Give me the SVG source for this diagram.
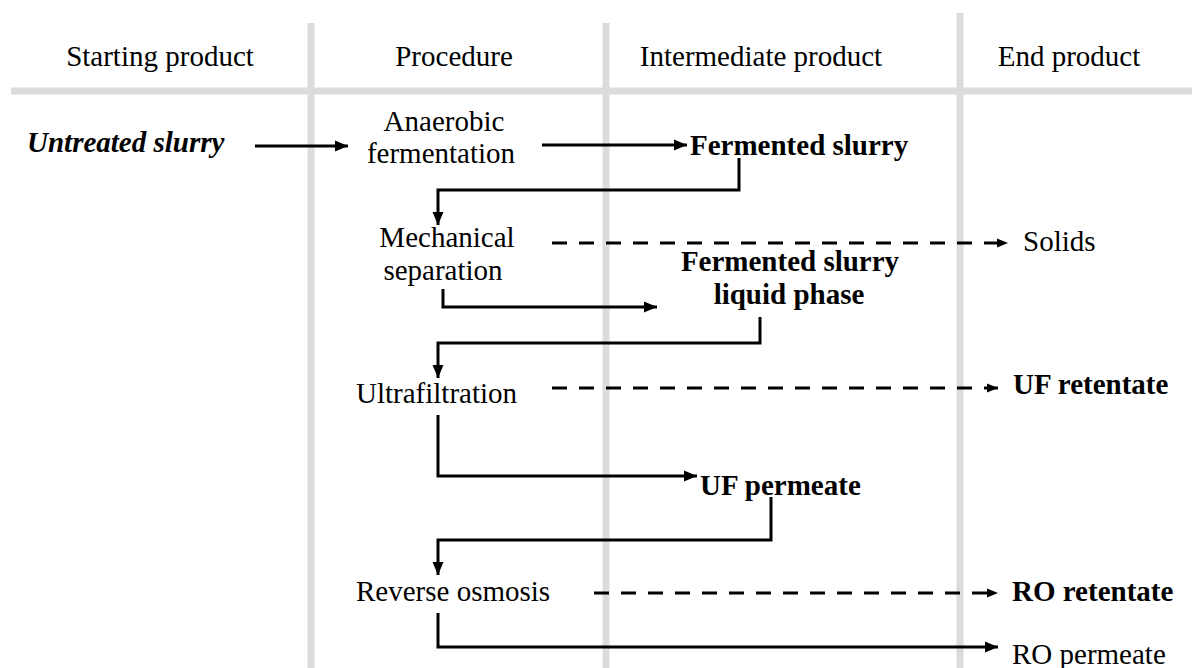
<svg xmlns="http://www.w3.org/2000/svg" width="1192" height="668" viewBox="0 0 1192 668">
<defs>
<marker id="ah" markerUnits="userSpaceOnUse" markerWidth="14" markerHeight="12" refX="13" refY="6" orient="auto">
<path d="M0,0.5 L13,6 L0,11.5 z" fill="#000"/>
</marker>
<marker id="ahs" markerUnits="userSpaceOnUse" markerWidth="12" markerHeight="10" refX="11" refY="5" orient="auto">
<path d="M0,0.5 L11,5 L0,9.5 z" fill="#000"/>
</marker>
</defs>
<style>
.grid{stroke:#dcdcdc;stroke-width:7;fill:none}
.t{font-family:"Liberation Serif","Times New Roman",serif;font-size:29px;fill:#000}
.b{font-weight:bold}
.bi{font-weight:bold;font-style:italic}
.m{text-anchor:middle}
.c{stroke:#000;stroke-width:3;fill:none;marker-end:url(#ah)}
.d{stroke:#000;stroke-width:3;fill:none;stroke-dasharray:15 12;marker-end:url(#ahs)}
</style>
<rect width="1192" height="668" fill="#fff"/>
<g id="grid">
<line class="grid" x1="11" y1="91" x2="1192" y2="91"/>
<line class="grid" x1="311" y1="23" x2="311" y2="668"/>
<line class="grid" x1="606" y1="23" x2="606" y2="668"/>
<line class="grid" x1="960" y1="13" x2="960" y2="668"/>
</g>
<g id="headers">
<text class="t m" x="160" y="66">Starting product</text>
<text class="t m" x="454" y="66">Procedure</text>
<text class="t m" x="761" y="66">Intermediate product</text>
<text class="t m" x="1069" y="66">End product</text>
</g>
<g id="connectors">
<path class="c" d="M255,146 H348"/>
<path class="c" d="M542,145 H687"/>
<path class="c" d="M739,158 V190 H438 V225"/>
<path class="d" d="M552,243 H1008"/>
<path class="c" d="M443,289 V307 H657"/>
<path class="c" d="M760,317 V343 H438 V378"/>
<path class="d" d="M552,388 H998"/>
<path class="c" d="M438,415 V476 H697"/>
<path class="c" d="M771,497 V540 H438 V575"/>
<path class="d" d="M594,593 H998"/>
<path class="c" d="M438,613 V647 H998"/>
</g>
<g id="untreated"><text class="t bi" x="27" y="152">Untreated slurry</text></g>
<g id="anaerobic"><text class="t m" x="444" y="131">Anaerobic</text><text class="t m" x="441" y="163">fermentation</text></g>
<g id="fermented"><text class="t b" x="690" y="155">Fermented slurry</text></g>
<g id="mechanical"><text class="t m" x="447" y="247">Mechanical</text><text class="t m" x="443" y="280">separation</text></g>
<g id="solids"><text class="t" x="1023" y="251">Solids</text></g>
<g id="liquid"><text class="t b m" x="790" y="271">Fermented slurry</text><text class="t b m" x="789" y="304">liquid phase</text></g>
<g id="uf"><text class="t" x="356" y="403">Ultrafiltration</text></g>
<g id="ufret"><text class="t b" x="1013" y="394">UF retentate</text></g>
<g id="ufperm"><text class="t b" x="700" y="495">UF permeate</text></g>
<g id="ro"><text class="t" x="356" y="601">Reverse osmosis</text></g>
<g id="roret"><text class="t b" x="1012" y="601">RO retentate</text></g>
<g id="roperm"><text class="t" x="1012" y="664">RO permeate</text></g>
</svg>
